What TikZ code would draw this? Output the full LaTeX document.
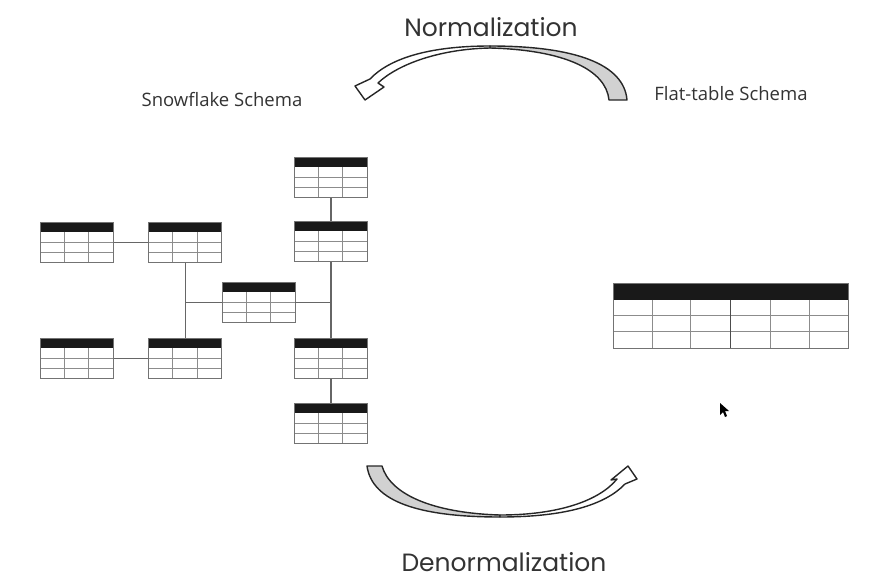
\documentclass[tikz,border=0pt]{standalone}
\usepackage{fontspec}
\setmainfont{Open Sans}
\newfontfamily\titlefont{Poppins}
\usepackage{tikz}
\usetikzlibrary{calc}
\tikzset{
tabbox/.style={draw=black!55, line width=0.8pt, inner sep=0pt,
  minimum width=73pt, minimum height=40pt},
flatbox/.style={draw=black!55, line width=0.8pt, inner sep=0pt,
  minimum width=235pt, minimum height=65pt},
gridline/.style={draw=black!45, line width=0.7pt},
link/.style={draw=black!60, line width=1.1pt},
bentarrow/.style={draw=black!85, line width=1.4pt, line join=round},
title/.style={font=\titlefont\fontsize{25}{30}\selectfont, text=black!80, anchor=base, inner sep=0pt},
label/.style={font=\fontsize{18.5}{22}\selectfont, text=black!80, anchor=base, inner sep=0pt}
}

% one small table of the snowflake
\newcommand{\dbtab}[2]{%
  \node[tabbox] (#1) at (#2) {};
  \fill[black!90] (#1.north west) rectangle ($(#1.north east)+(0,10)$);
  \foreach \r in {20.3,30.3}
    \draw[gridline] ($(#1.north west)+(0,\r)$) -- ($(#1.north east)+(0,\r)$);
  \foreach \c in {24.3,48.6}
    \draw[gridline] ($(#1.north west)+(\c,10)$) -- ($(#1.south west)+(\c,0)$);
  \node[tabbox] at (#2) {};
}

\begin{document}
\begin{tikzpicture}[x=1pt, y=-1pt]
\useasboundingbox (0,0) rectangle (886,578);

% snowflake tables
\dbtab{dimA}{77,242.5}
\dbtab{dimB}{185.3,242.5}
\dbtab{dimC}{77,358.3}
\dbtab{dimD}{185.3,358.3}
\dbtab{fact}{258.5,302.3}
\dbtab{dimF}{331,177.3}
\dbtab{dimG}{331,241.7}
\dbtab{dimH}{331,358.3}
\dbtab{dimI}{331,423.3}

\draw[link] (dimA.east) -- (dimB.west);
\draw[link] (dimC.east) -- (dimD.west);
\draw[link] (dimB.south) -- (dimD.north);
\draw[link] (fact.west) -- (dimB.south |- fact.west);
\draw[link] (fact.east) -- (dimG.south |- fact.east);
\draw[link] (dimF.south) -- (dimG.north);
\draw[link] (dimG.south) -- (dimH.north);
\draw[link] (dimH.south) -- (dimI.north);

% flat table
\node[flatbox] (flat) at (730.8,315.8) {};
\fill[black!90] (flat.north west) rectangle ($(flat.north east)+(0,17)$);
\foreach \r in {32.7,48.4}
  \draw[gridline] ($(flat.north west)+(0,\r)$) -- ($(flat.north east)+(0,\r)$);
\foreach \c in {39,77.7,157.4,196.7}
  \draw[gridline] ($(flat.north west)+(\c,17)$) -- ($(flat.south west)+(\c,0)$);
\draw[gridline, draw=black!70, line width=1pt] ($(flat.north west)+(117.4,17)$) -- ($(flat.south west)+(117.4,0)$);
\node[flatbox] at (730.8,315.8) {};

% curved arrows
\filldraw[bentarrow, fill=black!18] (609,100) -- (627,100)
  .. controls (624,64) and (575,46) .. (490,46) -- (490,48)
  .. controls (565,50) and (606,70) .. (609,100) -- cycle;
\filldraw[bentarrow, fill=white] (490,46)
  .. controls (430,46) and (390,58) .. (370,79) -- (355,86) -- (365,100)
  -- (384,87) -- (378,83) .. controls (398,64) and (440,49) .. (490,48) -- cycle;

\filldraw[bentarrow, fill=black!18] (382,466) -- (367,466)
  .. controls (372,502) and (420,517) .. (500,517) -- (500,515)
  .. controls (432,513) and (390,494) .. (382,466) -- cycle;
\filldraw[bentarrow, fill=white] (500,517)
  .. controls (565,517) and (605,505) .. (625,484) -- (637,479) -- (628,466)
  -- (611,480) -- (617,479) .. controls (600,500) and (560,515) .. (500,515) -- cycle;

% texts
\node[title] (norm) at (491,37) {Normalization};
\node[title] (denorm) at (504,571) {Denormalization};
\node[label] (snow) at (222,106) {Snowflake Schema};
\node[label] (flatlbl) at (731,100) {Flat-table Schema};

% mouse pointer
\fill[black] (720,403) -- (720,415) -- (723,412) -- (725,417) -- (727,416)
  -- (725,411) -- (729,411) -- cycle;
\end{tikzpicture}
\end{document}
